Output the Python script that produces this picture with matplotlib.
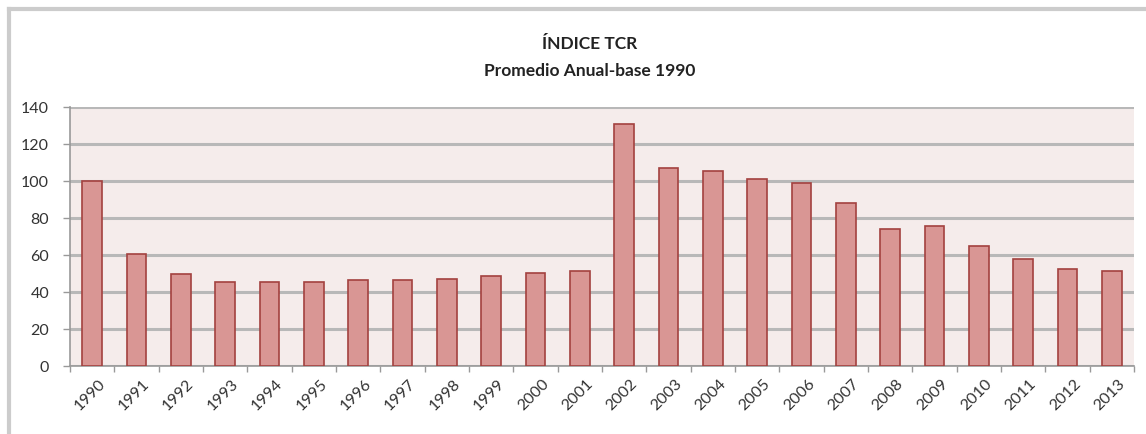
import matplotlib
matplotlib.use("Agg")
import matplotlib.pyplot as plt
from matplotlib.lines import Line2D
import matplotlib.transforms as mtransforms

years = [str(y) for y in range(1990, 2014)]
values = [99.6, 60.4, 49.6, 45.5, 45.5, 45.5, 46.3, 46.3, 47.2, 48.3, 50.3, 51.5,
          130.5, 106.8, 105.0, 100.7, 98.5, 87.8, 74.0, 75.3, 64.5, 57.8, 52.5, 51.5]
yticks = [0, 20, 40, 60, 80, 100, 120, 140]

plt.rcParams['font.family'] = ['Lato', 'DejaVu Sans']

fig = plt.figure(figsize=(11.46, 4.35), dpi=100)
ax = fig.add_axes([70/1146, 1-367/435, (1134-70)/1146, (367-107.5)/435])
ax.set_facecolor('#f5eceb')

x = list(range(len(years)))
ax.bar(x, values, width=0.44, color='#d99694', edgecolor='#a3413f', linewidth=1.2, zorder=3)

ax.set_xlim(-0.5, len(years) - 0.5)
ax.set_ylim(0, 140)
ax.set_yticks(yticks)
ax.set_yticklabels([str(v) for v in yticks], fontsize=11.5, color='#333333')
ax.yaxis.grid(True, color='#b8b8b8', linewidth=2.2, zorder=1)
ax.set_axisbelow(True)

ax.set_xticks(x)
ax.set_xticklabels(years, rotation=45, ha='right', rotation_mode='anchor', fontsize=11.5, color='#333333')
ax.tick_params(axis='x', length=0, pad=7)
offset = mtransforms.ScaledTranslation(6/100, 0, fig.dpi_scale_trans)
for lbl in ax.get_xticklabels():
    lbl.set_transform(lbl.get_transform() + offset)
ax.set_xticks([i - 0.5 for i in range(len(years) + 1)], minor=True)
ax.tick_params(axis='x', which='minor', length=4, color='#999999', width=1)
ax.tick_params(axis='y', length=5, color='#999999', width=1, pad=10)

for s in ['top', 'right']:
    ax.spines[s].set_visible(False)
ax.spines['left'].set_color('#999999')
ax.spines['bottom'].set_color('#999999')
ax.spines['left'].set_linewidth(1.2)
ax.spines['bottom'].set_linewidth(1.2)

fig.text(590/1146, 1-44/435, 'ÍNDICE TCR', ha='center', va='center', fontsize=12.5, fontweight='bold', color='#222222')
fig.text(590/1146, 1-71/435, 'Promedio Anual-base 1990', ha='center', va='center', fontsize=12.5, fontweight='bold', color='#222222')

# outer chart frame (top and left visible)
fig.add_artist(Line2D([9/1146, 1], [1-10/435, 1-10/435], transform=fig.transFigure, color='#cccccc', linewidth=3))
fig.add_artist(Line2D([9/1146, 9/1146], [1-10/435, 0], transform=fig.transFigure, color='#cccccc', linewidth=3))

fig.savefig('out.png', dpi=100)
